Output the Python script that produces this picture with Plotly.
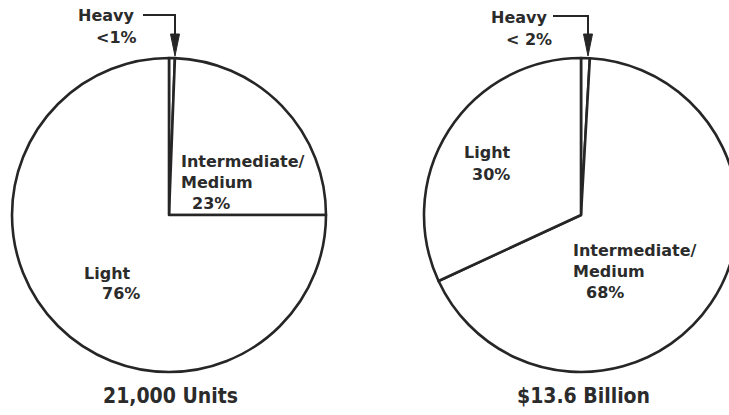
import plotly.graph_objects as go

W, H = 745, 415   # wider than the window; the page clips the right pie like the reference

# ---- data (slice shares as drawn; label text as printed) ----
units_labels = ["Heavy", "Intermediate/Medium", "Light"]
units_values = [0.6, 24.4, 75.0]
units_text = ["<1%", "23%", "76%"]

dollars_labels = ["Heavy", "Intermediate/Medium", "Light"]
dollars_values = [0.9, 67.2, 31.9]
dollars_text = ["< 2%", "68%", "30%"]

titles = ["21,000 Units", "$13.6 Billion"]

LINE = "#262626"
TXT = "#2b2b2b"
FONT = "DejaVu Sans, Liberation Sans, Arial"


def px(x):
    return x / W


def py(y):
    return 1 - y / H


fig = go.Figure()
fig.add_trace(go.Pie(
    labels=units_labels, values=units_values, sort=False,
    direction="clockwise", rotation=0, textinfo="none", hoverinfo="label+percent",
    marker=dict(colors=["white"] * 3, line=dict(color=LINE, width=2.6)),
    domain=dict(x=[px(12), px(326)], y=[py(372), py(58)]),
    showlegend=False,
))
fig.add_trace(go.Pie(
    labels=dollars_labels, values=dollars_values, sort=False,
    direction="clockwise", rotation=0, textinfo="none", hoverinfo="label+percent",
    marker=dict(colors=["white"] * 3, line=dict(color=LINE, width=2.6)),
    domain=dict(x=[px(424), px(738)], y=[py(372), py(58)]),
    showlegend=False,
))

ann = []


def txt(s, x, y, size=16, anchor="left", family=FONT):
    ann.append(dict(
        text=f"<b>{s}</b>", x=px(x), y=py(y), xref="paper", yref="paper",
        xanchor=anchor, yanchor="middle", showarrow=False,
        font=dict(family=family, size=size, color=TXT),
    ))


# left pie labels
txt(units_labels[0], 76, 15)
txt(units_text[0], 94, 38)
txt("Intermediate/", 179, 161)
txt("Medium", 179, 182)
txt(units_text[1], 190, 203)
txt(units_labels[2], 82, 273)
txt(units_text[2], 100, 293)

# right pie labels
txt(dollars_labels[0], 489, 17)
txt(dollars_text[0], 504, 40)
txt(dollars_labels[2], 462, 152)
txt(dollars_text[2], 470, 174)
txt("Intermediate/", 571, 250)
txt("Medium", 571, 271)
txt(dollars_text[1], 584, 292)

# titles
tfam = "DejaVu Sans Condensed, Liberation Sans Narrow, Liberation Sans"
txt(titles[0], 170, 396, size=21, anchor="center", family=tfam)
txt(titles[1], 583, 396, size=21, anchor="center", family=tfam)

# leader lines with arrowheads
for (x0, x1, yh) in [(143, 175, 15), (553, 588, 16)]:
    fig.add_shape(type="path", xref="paper", yref="paper",
                  path=f"M {px(x0)},{py(yh)} L {px(x1)},{py(yh)} L {px(x1)},{py(40)}",
                  line=dict(color=LINE, width=2))
    fig.add_shape(type="path", xref="paper", yref="paper",
                  path=(f"M {px(x1 - 4.5)},{py(34)} L {px(x1 + 4.5)},{py(34)} "
                        f"L {px(x1)},{py(56)} Z"),
                  fillcolor=LINE, line=dict(color=LINE, width=1))

fig.update_layout(
    width=W, height=H, margin=dict(l=0, r=0, t=0, b=0),
    paper_bgcolor="white", plot_bgcolor="white",
    annotations=ann,
)
fig.write_html(
    "out.html",
    config={"displayModeBar": False},
    post_script="document.body.style.margin='0';document.body.style.overflow='hidden';"
                "document.documentElement.style.overflow='hidden';",
)
